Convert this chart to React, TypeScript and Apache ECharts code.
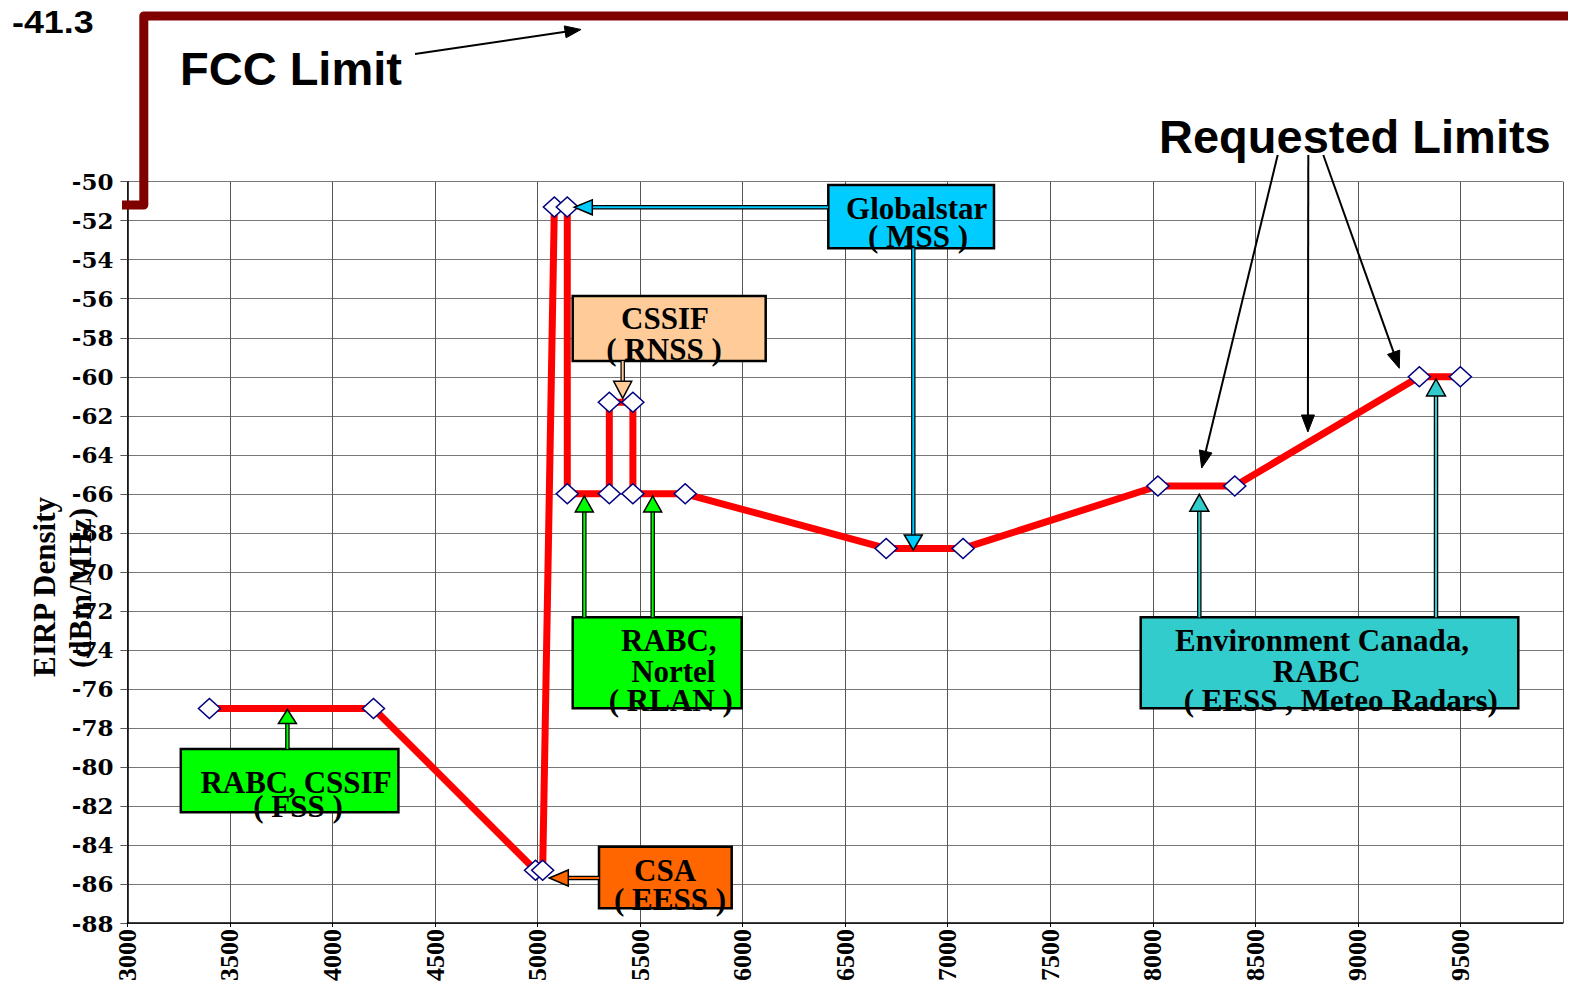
import React, { useEffect, useRef } from "react";
import * as echarts from "echarts";

// Requested limits (frequency in MHz, EIRP density in dBm/MHz)
const freqMHz = [3400, 4200, 4990, 5025, 5082, 5145, 5145, 5350, 5350, 5465, 5465, 5720, 6700, 7075, 8025, 8400, 9300, 9500];
const eirpDbm = [-77, -77, -85.3, -85.3, -51.3, -51.3, -66, -66, -61.3, -61.3, -66, -66, -68.8, -68.8, -65.6, -65.6, -60, -60];

// FCC limit step
const fccFreq = [2565, 3080, 3080, 10300];
const fccLimit = [-51.2, -51.2, -41.5, -41.5];

const xMin = 3000;
const xMax = 10000;
const xStep = 500;
const yMin = -88;
const yMax = -50;
const yStep = 2;

const SERIF = '"Liberation Serif", "Times New Roman", serif';
const SANS = '"Liberation Sans", Arial, sans-serif';

type Pt = [number, number];

function arrow(from: Pt, to: Pt, color: string | null, headLen: number, headW: number): any[] {
  const dx = to[0] - from[0];
  const dy = to[1] - from[1];
  const len = Math.sqrt(dx * dx + dy * dy);
  const ux = dx / len;
  const uy = dy / len;
  const bx = to[0] - ux * headLen;
  const by = to[1] - uy * headLen;
  const nx = -uy;
  const ny = ux;
  const pts = [
    [to[0], to[1]],
    [bx + (nx * headW) / 2, by + (ny * headW) / 2],
    [bx - (nx * headW) / 2, by - (ny * headW) / 2],
  ];
  const els: any[] = [];
  if (color) {
    els.push({
      type: "line",
      z: 12,
      shape: { x1: from[0], y1: from[1], x2: bx, y2: by },
      style: { stroke: "#000", lineWidth: 4.5 },
    });
    els.push({
      type: "line",
      z: 13,
      shape: { x1: from[0], y1: from[1], x2: bx + ux * 2, y2: by + uy * 2 },
      style: { stroke: color, lineWidth: 2 },
    });
    els.push({
      type: "polygon",
      z: 14,
      shape: { points: pts },
      style: { fill: color, stroke: "#000", lineWidth: 1.5 },
    });
  } else {
    els.push({
      type: "line",
      z: 12,
      shape: { x1: from[0], y1: from[1], x2: bx + ux * 2, y2: by + uy * 2 },
      style: { stroke: "#000", lineWidth: 2 },
    });
    els.push({
      type: "polygon",
      z: 14,
      shape: { points: pts },
      style: { fill: "#000", stroke: "#000", lineWidth: 1 },
    });
  }
  return els;
}

function box(x: number, y: number, w: number, h: number, fill: string): any {
  return {
    type: "rect",
    z: 10,
    shape: { x, y, width: w, height: h },
    style: { fill, stroke: "#000", lineWidth: 2.5 },
  };
}

function label(text: string, x: number, y: number, size = 31, family = SERIF, align = "center"): any {
  return {
    type: "text",
    z: 11,
    x,
    y,
    style: {
      text,
      x: 0,
      y: 0,
      font: `bold ${size}px ${family}`,
      fill: "#000",
      textAlign: align,
      textVerticalAlign: "middle",
    },
  };
}

export default function App() {
  const ref = useRef<HTMLDivElement>(null);

  useEffect(() => {
    if (!ref.current) return;
    const chart = echarts.init(ref.current, undefined, { renderer: "svg" });

    const graphic: any[] = [
      // top-left value label
      {
        type: "text",
        z: 11,
        x: 12,
        y: 22,
        scaleX: 1.12,
        style: {
          text: "-41.3",
          x: 0,
          y: 0,
          font: `bold 32px ${SANS}`,
          fill: "#000",
          textAlign: "left",
          textVerticalAlign: "middle",
        },
      },
      label("FCC Limit", 180, 68.5, 47, SANS, "left"),
      ...arrow([415, 54], [581, 29.5], null, 16, 12),
      label("Requested Limits", 1159, 136, 47, SANS, "left"),
      ...arrow([1277.7, 155], [1201.7, 468], null, 17, 13),
      ...arrow([1308.3, 155], [1307.9, 432], null, 17, 13),
      ...arrow([1323.3, 155], [1399.3, 368.3], null, 17, 13),

      // y axis title
      {
        type: "text",
        z: 11,
        x: 44,
        y: 587,
        rotation: Math.PI / 2,
        style: {
          text: "EIRP Density",
          x: 0,
          y: 0,
          font: `bold 31px ${SERIF}`,
          fill: "#000",
          textAlign: "center",
          textVerticalAlign: "middle",
        },
      },
      {
        type: "text",
        z: 11,
        x: 80,
        y: 588,
        rotation: Math.PI / 2,
        style: {
          text: "(dBm/MHz)",
          x: 0,
          y: 0,
          font: `bold 31px ${SERIF}`,
          fill: "#000",
          textAlign: "center",
          textVerticalAlign: "middle",
        },
      },

      // Globalstar (MSS)
      box(828.3, 185, 165.7, 63.3, "#00CCFF"),
      label("Globalstar", 916.7, 208.4),
      label("( MSS )", 918, 236.8),
      ...arrow([828, 207.3], [574.3, 207.3], "#00CCFF", 18, 15),
      ...arrow([913.3, 248.3], [913.3, 550], "#00CCFF", 15, 18),

      // CSSIF (RNSS)
      box(572.7, 296, 193, 65, "#FFCC99"),
      label("CSSIF", 665, 318.4),
      label("( RNSS )", 664, 349.4),
      ...arrow([622.7, 361], [622.7, 398.3], "#FFCC99", 17, 18),

      // RABC, Nortel (RLAN)
      box(572.7, 617.3, 169, 91, "#00FF00"),
      label("RABC,", 668.8, 640.8),
      label("Nortel", 673.3, 671.1),
      label("( RLAN )", 670.8, 700.1),
      ...arrow([584.3, 617.3], [584.3, 496], "#00FF00", 16, 18),
      ...arrow([652.7, 617.3], [652.7, 496], "#00FF00", 16, 18),

      // Environment Canada, RABC
      box(1140.7, 617.3, 377.6, 91, "#33CCCC"),
      label("Environment Canada,", 1322, 640.8),
      label("RABC", 1316.7, 671.1),
      label("( EESS , Meteo Radars)", 1340.8, 700.1),
      ...arrow([1199.3, 617.3], [1199.3, 494.3], "#33CCCC", 17, 19),
      ...arrow([1436, 617.3], [1436, 379], "#33CCCC", 17, 19),

      // RABC, CSSIF (FSS)
      box(180.8, 749, 217.6, 63.3, "#00FF00"),
      label("RABC, CSSIF", 296, 782.8),
      label("( FSS )", 298, 806.8),
      ...arrow([287.4, 749], [287.4, 709.5], "#00FF00", 14, 18),

      // CSA (EESS)
      box(599, 846.7, 132.7, 61.6, "#FF6600"),
      label("CSA", 665, 870.1),
      label("( EESS )", 670, 899.1),
      ...arrow([599, 878], [549.3, 878], "#FF6600", 19, 16),
    ];

    chart.setOption({
      animation: false,
      backgroundColor: "#ffffff",
      grid: {
        left: 127.4,
        right: 23.1,
        top: 181.7,
        bottom: 57.3,
        containLabel: false,
      },
      xAxis: {
        type: "value",
        min: xMin,
        max: xMax,
        interval: xStep,
        axisLine: { show: true, onZero: false, lineStyle: { color: "#000", width: 1.5 } },
        axisTick: { show: true, length: 4, lineStyle: { color: "#000" } },
        splitLine: { show: true, lineStyle: { color: "#555", width: 1 } },
        axisLabel: {
          rotate: 90,
          margin: 6,
          showMaxLabel: false,
          color: "#000",
          fontFamily: SERIF,
          fontWeight: "bold",
          fontSize: 26,
          formatter: (v: number) => String(v),
        },
      },
      yAxis: {
        type: "value",
        min: yMin,
        max: yMax,
        interval: yStep,
        axisLine: { show: true, onZero: false, lineStyle: { color: "#000", width: 1.5 } },
        axisTick: { show: true, length: 7, lineStyle: { color: "#555" } },
        splitLine: { show: true, lineStyle: { color: "#777", width: 1 } },
        axisLabel: {
          margin: 14,
          color: "#000",
          fontFamily: '"DejaVu Serif", serif',
          fontWeight: "bold",
          fontSize: 23,
          formatter: (v: number) => String(v),
        },
      },
      series: [
        {
          name: "FCC Limit",
          type: "line",
          clip: false,
          symbol: "none",
          z: 3,
          lineStyle: { color: "#800000", width: 9, join: "round", cap: "butt" },
          data: fccFreq.map((f, i) => [f, fccLimit[i]]),
        },
        {
          name: "Requested Limits",
          type: "line",
          clip: false,
          z: 4,
          showAllSymbol: true,
          symbol: "diamond",
          symbolSize: [22, 20],
          lineStyle: { color: "#FF0000", width: 7, join: "round" },
          itemStyle: { color: "#FFFFFF", borderColor: "#000080", borderWidth: 1.5 },
          data: freqMHz.map((f, i) => [f, eirpDbm[i]]),
        },
      ],
      graphic,
    });

    return () => {
      chart.dispose();
    };
  }, []);

  return (
    <div
      ref={ref}
      style={{ position: "absolute", left: 0, top: 0, width: 1586, height: 984, background: "#fff" }}
    />
  );
}
